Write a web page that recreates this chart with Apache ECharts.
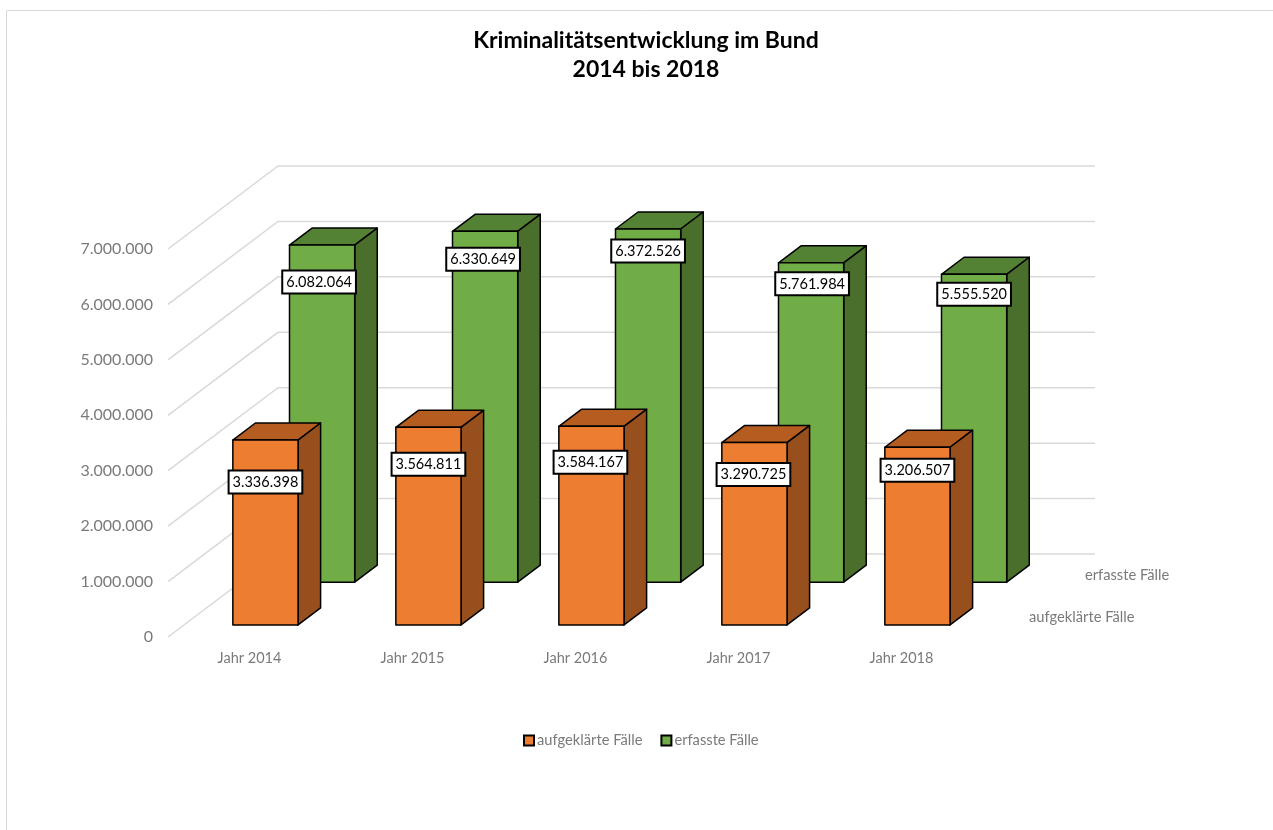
<!DOCTYPE html>
<html><head><meta charset="utf-8">
<style>html,body{margin:0;padding:0;background:#fff}#c{width:1273px;height:830px}</style>
<script src="https://cdn.jsdelivr.net/npm/echarts@6/dist/echarts.min.js"></script>
</head><body><div id="c"></div>
<script>
const categories = ['Jahr 2014','Jahr 2015','Jahr 2016','Jahr 2017','Jahr 2018'];
const aufgeklaerteFaelle = [3336398,3564811,3584167,3290725,3206507];
const erfassteFaelle = [6082064,6330649,6372526,5761984,5555520];
const yTicks = [0,1000000,2000000,3000000,4000000,5000000,6000000,7000000];
const nameAuf = 'aufgeklärte Fälle', nameErf = 'erfasste Fälle';

// Perspective of the 3D look
const DX = 110, DY = 83;
const FONT = 'Lato, "Open Sans", sans-serif';
const de = v => String(v).replace(/\B(?=(\d{3})+$)/g,'.');

function prism(colors, d0, d1, drops, shifts){
  return function(params, api){
    const cat = api.value(0), val = api.value(1);
    const hw = api.size([1,0])[0]*0.2;
    const P = (v,d,sx)=>{const p=api.coord([cat,v]);return [p[0]+d*DX+sx*hw,p[1]-d*DY];};
    const ls = {stroke:'#000',lineWidth:1.5,lineJoin:'round'};
    const poly = (pts,fill)=>({type:'polygon',shape:{points:pts},style:Object.assign({fill},ls)});
    const c = P(val,d0,0);
    return {type:'group',children:[
      poly([P(val,d0,-1),P(val,d0,1),P(val,d1,1),P(val,d1,-1)],colors.top),
      poly([P(0,d0,1),P(val,d0,1),P(val,d1,1),P(0,d1,1)],colors.side),
      poly([P(0,d0,-1),P(0,d0,1),P(val,d0,1),P(val,d0,-1)],colors.front),
      {type:'text',z2:10,x:c[0]+shifts[params.dataIndex],y:c[1]+drops[params.dataIndex],style:{
        text:de(val),align:'center',verticalAlign:'middle',fill:'#000',font:'14.5px '+FONT,
        backgroundColor:'#fff',borderColor:'#000',borderWidth:2,padding:[3,3,3,3]}}
    ]};
  };
}
const option = {
  animation:false,
  backgroundColor:'#fff',
  title:{text:'Kriminalitätsentwicklung im Bund\n2014 bis 2018',left:641,top:21,textAlign:'center',
    textStyle:{fontFamily:FONT,fontWeight:'bold',fontSize:23,color:'#000',lineHeight:29}},
  legend:{left:518,top:728,itemWidth:10,itemHeight:10,itemGap:18,icon:'rect',data:[nameAuf,nameErf],
    textStyle:{fontFamily:FONT,fontSize:14.7,color:'#7a7a7a',padding:[0,0,0,-2]}},
  grid:{left:168,top:249,width:815,height:388},
  xAxis:{type:'category',data:categories,axisLine:{show:false},axisTick:{show:false},
    axisLabel:{margin:14,fontFamily:FONT,fontSize:14.5,color:'#7a7a7a'}},
  yAxis:{type:'value',min:0,max:7000000,interval:1000000,axisLine:{show:false},axisTick:{show:false},
    splitLine:{show:false},axisLabel:{margin:15,fontFamily:FONT,fontSize:16,color:'#7a7a7a',formatter:v=>de(v)}},
  graphic:[
    {type:'rect',silent:true,z:-1,shape:{x:6.5,y:10.5,width:1400,height:1000},style:{fill:'none',stroke:'#d9d9d9',lineWidth:1}},
    {type:'text',silent:true,x:1085,y:575,style:{text:nameErf,font:'14.7px '+FONT,fill:'#7a7a7a',verticalAlign:'middle'}},
    {type:'text',silent:true,x:1029,y:617,style:{text:nameAuf,font:'14.7px '+FONT,fill:'#7a7a7a',verticalAlign:'middle'}}
  ],
  series:[
    {type:'custom',name:'wall',z:1,silent:true,encode:{y:0},data:yTicks.map(v=>[v]),clip:false,
     renderItem(params,api){
       const p = api.coord([0,api.value(0)]);
       const x0 = params.coordSys.x, xEnd = params.coordSys.x+params.coordSys.width+112-DX;
       return {type:'polyline',shape:{points:[[x0,p[1]],[x0+DX,p[1]-DY],[xEnd+DX,p[1]-DY]]},
         style:{fill:'none',stroke:'#d9d9d9',lineWidth:1.5}};
     }},
    {type:'custom',name:nameErf,z:2,silent:true,clip:false,encode:{x:0,y:1},
     itemStyle:{color:'#70AD47',borderColor:'#000',borderWidth:1.5},
     data:erfassteFaelle.map((v,i)=>[i,v]),
     renderItem:prism({front:'#70AD47',top:'#548235',side:'#4A6E2B'},0.66,0.865,[37,28,22,21,20],[-3,-2,0,1,0])},
    {type:'custom',name:nameAuf,z:3,silent:true,clip:false,encode:{x:0,y:1},
     itemStyle:{color:'#ED7D31',borderColor:'#000',borderWidth:1.5},
     data:aufgeklaerteFaelle.map((v,i)=>[i,v]),
     renderItem:prism({front:'#ED7D31',top:'#B55D21',side:'#97501D'},0.145,0.35,[42,37,36,32,23],[0,0,-1,-1,0])}
  ]
};
echarts.init(document.getElementById('c')).setOption(option);
</script></body></html>
